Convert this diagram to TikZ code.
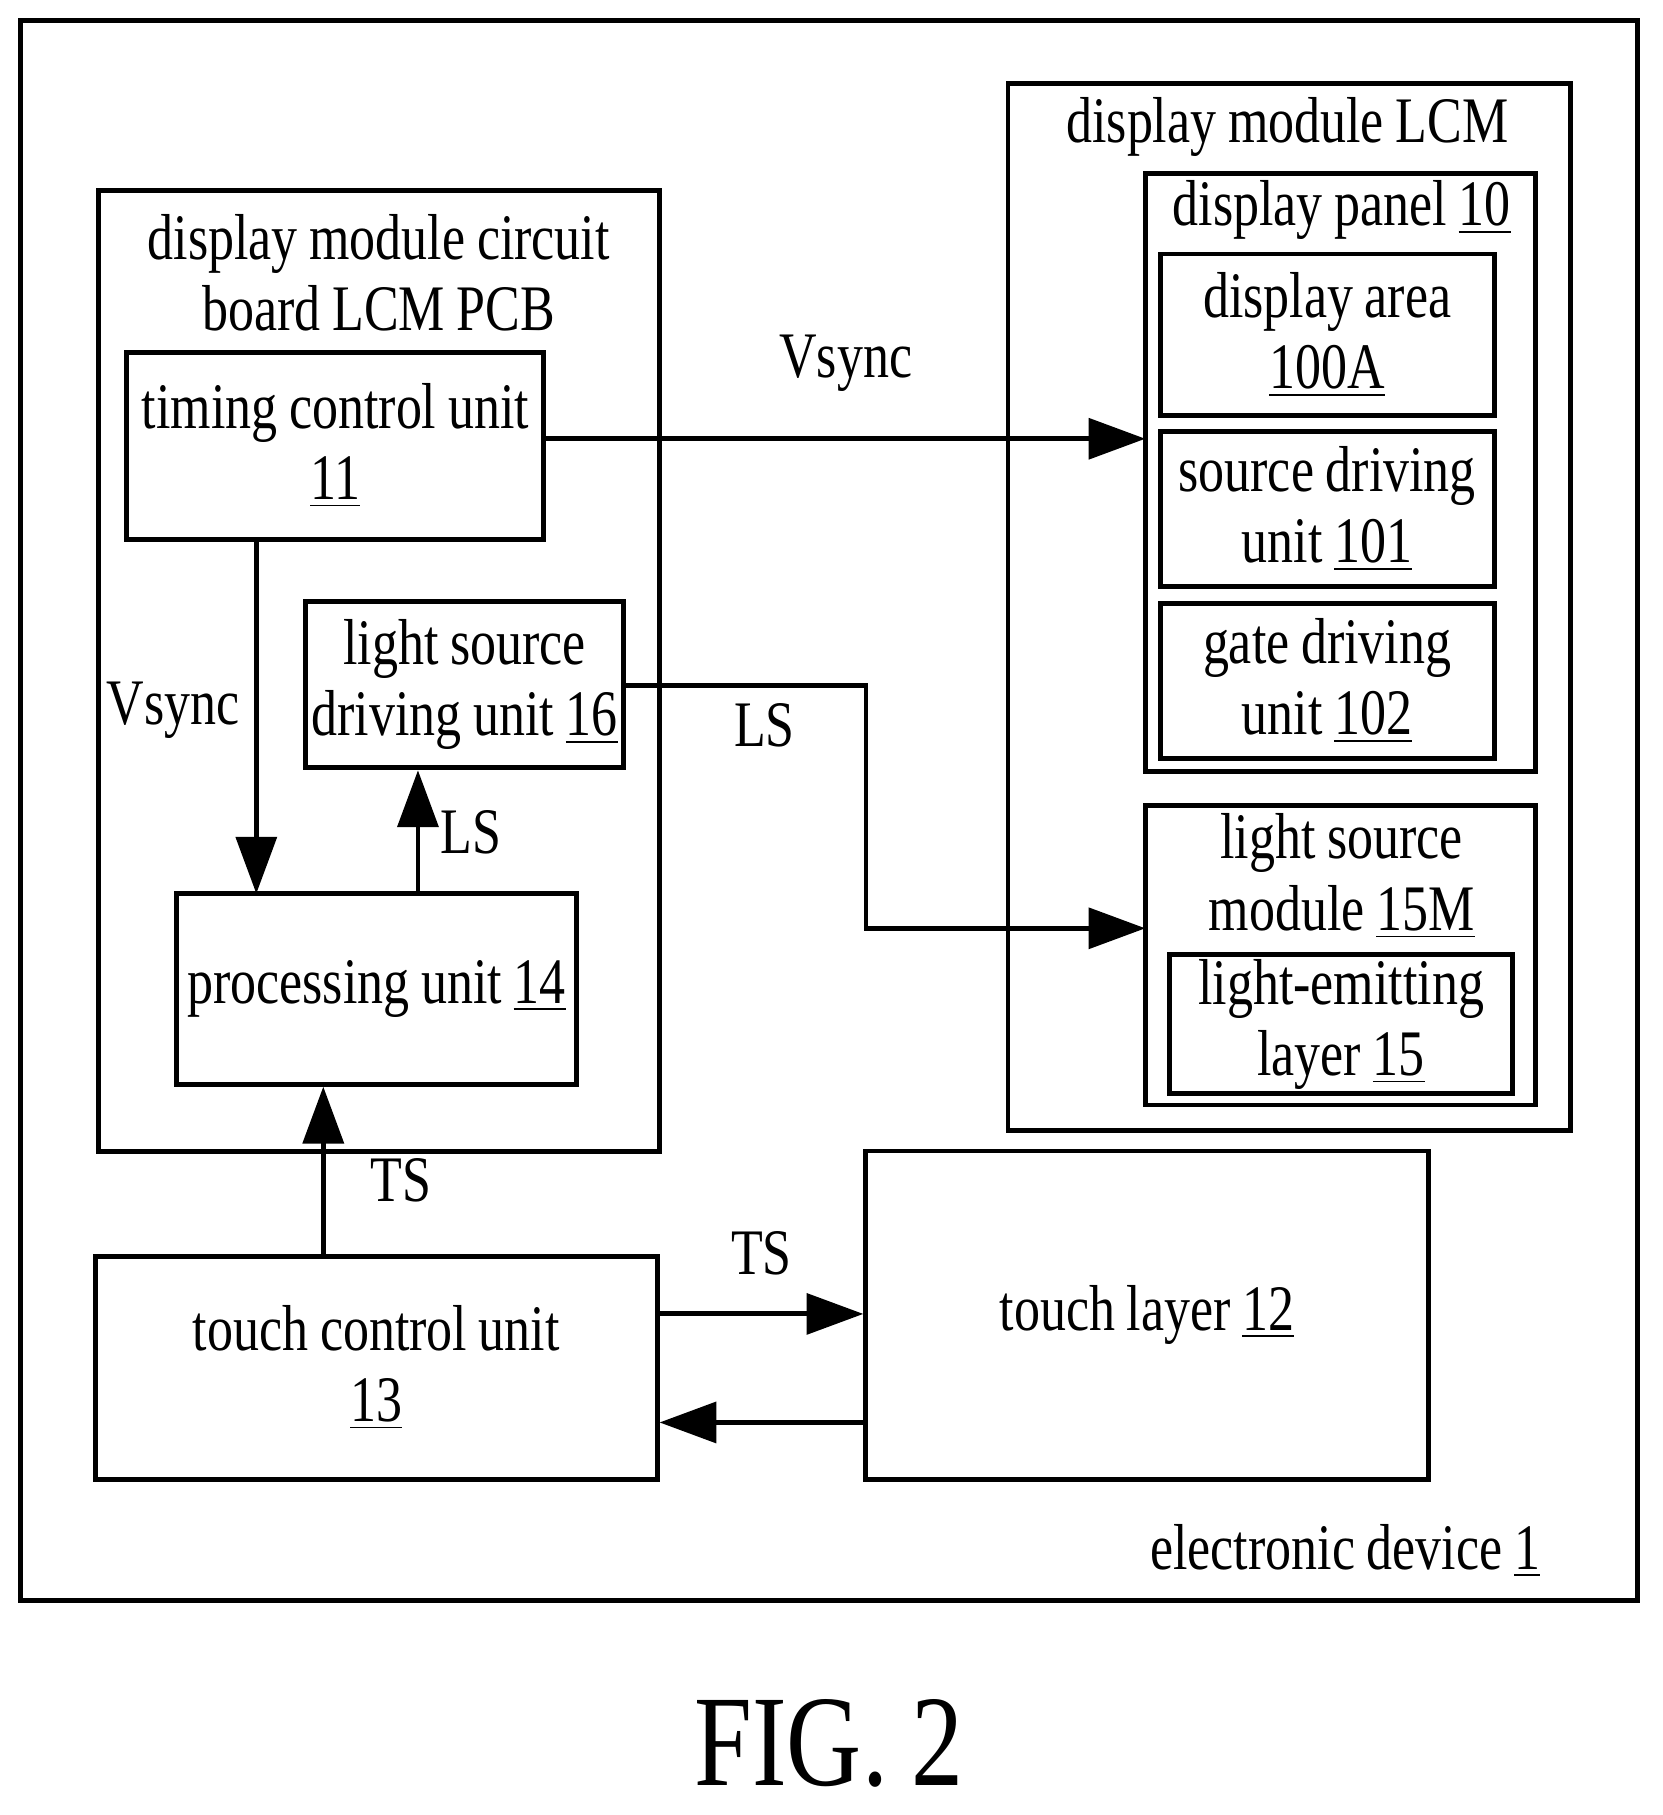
\documentclass[tikz,border=0pt]{standalone}
\usepackage{fontspec}
\setmainfont[FakeStretch=0.8, WordSpace=0.9]{Liberation Serif}
\usetikzlibrary{arrows.meta}
\newcommand{\ul}[1]{\underline{#1}}
\begin{document}
\begin{tikzpicture}[x=0.01cm, y=-0.01cm,
    box/.style={draw, line width=1.2pt, inner sep=0pt, align=center, font=\fontsize{16}{17.5}\selectfont},
    lbl/.style={font=\fontsize{16}{17.5}\selectfont, inner sep=1pt, align=center},
    arr/.style={-{Triangle[length=14pt, width=10pt]}, line width=1.2pt}]
        \useasboundingbox (0,0) rectangle (1440,1572);
        %containers
        \draw[line width=1.2pt] (18,18) rectangle (1418,1386);
        \draw[line width=1.2pt] (85,165) rectangle (571,997);
        \draw[line width=1.2pt] (873,72) rectangle (1360,979);
        \draw[line width=1.2pt] (992,150) rectangle (1330,668);
        \draw[line width=1.2pt] (992,698) rectangle (1330,957);

        %titles
        \node[lbl] (pcbt) at (328,236) {display module circuit\\board LCM PCB};
        \node[lbl] (lcmt) at (1115,110) {display module LCM};
        \node[lbl] (pant) at (1162,182) {display panel \ul{10}};
        \node[lbl] (lsmt) at (1162,759) {light source\\module \ul{15M}};
        \node[lbl] (devt) at (1165,1343) {electronic device \ul{1}};
        \node[font=\fontsize{32}{38}\selectfont] (fig) at (718,1510) {FIG. 2};

        %units
        \node[box, minimum width=3.61cm, minimum height=1.62cm] (tcu) at (290.5,386) {timing control unit\\\ul{11}};
        \node[box, minimum width=2.75cm, minimum height=1.44cm] (lsd) at (402.5,593) {light source\\driving unit \ul{16}};
        \node[box, minimum width=3.46cm, minimum height=1.65cm] (pu) at (326,856.5) {processing unit \ul{14}};
        \node[box, minimum width=2.89cm, minimum height=1.40cm] (da) at (1149.5,290) {display area\\\ul{100A}};
        \node[box, minimum width=2.89cm, minimum height=1.34cm] (sd) at (1149.5,441) {source driving\\unit \ul{101}};
        \node[box, minimum width=2.89cm, minimum height=1.34cm] (gd) at (1149.5,590) {gate driving\\unit \ul{102}};
        \node[box, minimum width=2.97cm, minimum height=1.20cm] (le) at (1161.5,887) {light-emitting\\layer \ul{15}};
        \node[box, minimum width=4.86cm, minimum height=1.93cm] (tc) at (326,1184.5) {touch control unit\\\ul{13}};
        \node[box, minimum width=4.87cm, minimum height=2.84cm] (tl) at (993.5,1139) {touch layer \ul{12}};

        %signals
        \draw[arr] (tcu.east |- 0,380) -- (992,380) node[lbl, pos=0.5, above=10pt] (v1) {Vsync};
        \draw[arr] (222,467) -- (222,774);
        \node[lbl] (v2) at (150,615) {Vsync};
        \draw[arr] (362,774) -- (lsd.south -| 362,0) node[lbl, midway, right=4pt] (ls1) {LS};
        \draw[arr] (lsd.east |- 0,594) -- (750,594) -- (750,804) -- (992,804);
        \node[lbl] (ls2) at (662,628) {LS};
        \draw[arr] (280,1088) -- (pu.south -| 280,0) node[lbl, pos=0.45, right=10pt] (ts1) {TS};
        \draw[arr] (tc.east |- 0,1138) -- (tl.west |- 0,1138) node[lbl, midway, above=8pt] (ts2) {TS};
        \draw[arr] (tl.west |- 0,1232) -- (tc.east |- 0,1232);
\end{tikzpicture}
\end{document}
